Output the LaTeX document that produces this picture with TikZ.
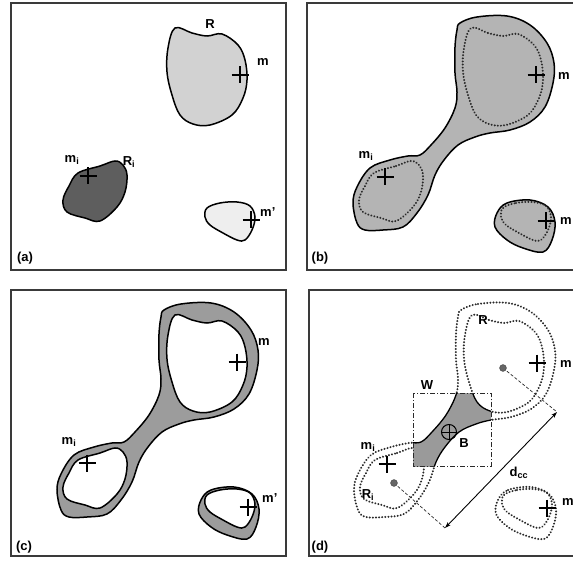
\documentclass[tikz,border=0pt]{standalone}
\usepackage{fontspec}
\setmainfont{Liberation Sans}
\usetikzlibrary{arrows.meta}
\definecolor{framec}{HTML}{3A3A3A}
\definecolor{lightR}{HTML}{D2D2D2}
\definecolor{darkRi}{HTML}{5E5E5E}
\definecolor{palem}{HTML}{EEEEEE}
\definecolor{grayb}{HTML}{B4B4B4}
\definecolor{grayc}{HTML}{9C9C9C}
\definecolor{grayd}{HTML}{9A9A9A}
\definecolor{dotc}{HTML}{2A2A2A}
\tikzset{
  panelframe/.style={draw=framec,line width=2pt},
  blobline/.style={draw=black,line width=1.5pt},
  dotline/.style={draw=dotc,line width=2.2pt,line cap=round,dash pattern=on 0.01pt off 3.1pt},
  crossln/.style={draw=black,line width=1.7pt},
  lbl/.style={font=\fontsize{13}{15}\selectfont\bfseries,inner sep=0pt},
  thindash/.style={draw=dotc,line width=0.7pt,dash pattern=on 3pt off 2pt},
  winline/.style={draw=dotc,line width=1pt,dash pattern=on 5pt off 2pt on 1pt off 2pt},
}
\newcommand\RBlob{plot[smooth cycle,tension=0.6] coordinates {(175,28) (192,33) (207,36) (222,34) (238,45) (245,60) (247,80) (243,98) (232,115) (210,125) (193,124) (180,115) (172,95) (167,72) (168,48)}}
\newcommand\RiBlob{plot[smooth cycle,tension=0.6] coordinates {(78,173) (100,166) (115,161) (123,165) (127,175) (125,192) (117,207) (100,221) (85,218) (67,212) (63,200) (69,186)}}
\newcommand\MpBlob{plot[smooth cycle,tension=0.6] coordinates {(207,208) (220,203) (237,202) (250,206) (255,217) (252,230) (245,240) (237,240) (223,233) (210,225) (205,217)}}
\newcommand\DumbBell{plot[smooth cycle,tension=0.6] coordinates {(164,23) (181,17) (211,16) (234,25) (251,43) (258,63) (257,83) (249,107) (234,122) (214,130) (194,133) (179,137) (162,145) (148,160) (139,175) (132,195) (121,213) (107,227) (87,230) (69,230) (61,223) (57,203) (61,187) (74,168) (94,160) (112,156) (124,155) (135,145) (149,128) (159,108) (161,92) (159,73) (159,47) (161,30)}}
\newcommand\SmallOuter{plot[smooth cycle,tension=0.6] coordinates {(201,213) (211,203) (234,200) (252,207) (259,222) (256,240) (247,252) (227,248) (211,240) (199,227)}}
\newcommand\pmk[1]{\draw[crossln] (#1) +(-8.5,0) -- +(8.5,0) (#1) +(0,-8.5) -- +(0,8.5);}
\begin{document}
\begin{tikzpicture}[x=1pt,y=-1pt]
\useasboundingbox (0,0) rectangle (573,561);
\fill[white] (0,0) rectangle (573,561);
% ---------- panel (a)
\draw[panelframe] (11,3) rectangle (286,270);
\begin{scope}
  \path[fill=lightR,blobline] \RBlob;
  \path[fill=darkRi,blobline] \RiBlob;
  \path[fill=palem,blobline] \MpBlob;
  \coordinate (a-m) at (240,75);
  \coordinate (a-mi) at (88,176);
  \coordinate (a-mp) at (251,220);
  \pmk{a-m}\pmk{a-mi}\pmk{a-mp}
  \node[lbl] (a-R) at (210,24) {R};
  \node[lbl,anchor=west] (a-mlab) at (257,62) {m};
  \node[lbl] (a-milab) at (72,160) {m\textsubscript{i}};
  \node[lbl] (a-Rilab) at (129,162) {R\textsubscript{i}};
  \node[lbl,anchor=west] (a-mplab) at (260,212) {m'};
  \node[lbl] (a-tag) at (25,258) {(a)};
\end{scope}
% ---------- panel (b)
\draw[panelframe] (307,3) rectangle (590,270);
\begin{scope}[shift={(296,0)}]
  \path[fill=grayb,blobline] \DumbBell;
  \path[fill=grayb,blobline] \SmallOuter;
  \draw[dotline] \RBlob;
  \draw[dotline] \RiBlob;
  \draw[dotline] \MpBlob;
  \coordinate (b-m) at (240,75);
  \coordinate (b-mi) at (89,177);
  \coordinate (b-mp) at (250,221);
  \pmk{b-m}\pmk{b-mi}\pmk{b-mp}
  \node[lbl,anchor=west] (b-mlab) at (262,76) {m};
  \node[lbl] (b-milab) at (70,156) {m\textsubscript{i}};
  \node[lbl,anchor=west] (b-mplab) at (264,221) {m};
  \node[lbl] (b-tag) at (24,258) {(b)};
\end{scope}
% ---------- panel (c)
\draw[panelframe] (11,290) rectangle (286,556);
\begin{scope}[shift={(0,287)}]
  \path[fill=grayc,blobline] \DumbBell;
  \path[fill=white,blobline] \RBlob;
  \path[fill=white,blobline] \RiBlob;
  \path[fill=grayc,blobline] \SmallOuter;
  \path[fill=white,blobline] \MpBlob;
  \coordinate (c-m) at (237,75);
  \coordinate (c-mi) at (87,176);
  \coordinate (c-mp) at (248,220);
  \pmk{c-m}\pmk{c-mi}\pmk{c-mp}
  \node[lbl,anchor=west] (c-mlab) at (258,55) {m};
  \node[lbl] (c-milab) at (69,155) {m\textsubscript{i}};
  \node[lbl,anchor=west] (c-mplab) at (262,211) {m'};
  \node[lbl] (c-tag) at (24,260) {(c)};
\end{scope}
% ---------- panel (d)
\draw[panelframe] (309,290) rectangle (590,556);
\begin{scope}[shift={(297,287)}]
  \draw[dotline] \DumbBell;
  \draw[dotline] \RBlob;
  \draw[dotline] \RiBlob;
  \draw[dotline] \SmallOuter;
  \draw[dotline] \MpBlob;
  \coordinate (W1) at (116,106);
  \coordinate (W2) at (194,179);
  \fill[white] (W1) rectangle (W2);
  \begin{scope}
    \clip (W1) rectangle (W2);
    \fill[grayd] \DumbBell;
    \fill[white] \RBlob;
    \draw[blobline,line width=1.3pt] \DumbBell;
    \draw[blobline,line width=1.3pt] \RBlob;
  \end{scope}
  \draw[winline] (W1) rectangle (W2);
  \node[lbl] (d-W) at (130,98) {W};
  % centroids and distance
  \coordinate (cR) at (206,81);
  \coordinate (cRi) at (97,196);
  \coordinate (eR) at (260,125);
  \coordinate (eRi) at (148,241);
  \draw[thindash] (cR) -- (eR);
  \draw[thindash] (cRi) -- (eRi);
  \draw[line width=0.9pt,{Stealth[length=6pt,width=4pt]}-{Stealth[length=6pt,width=4pt]}] (eRi) -- (eR);
  \fill[gray!80!black,draw=gray!50!black,line width=0.5pt] (cR) circle (3.4);
  \fill[gray!80!black,draw=gray!50!black,line width=0.5pt] (cRi) circle (3.4);
  \node[lbl] (d-dcc) at (222,186) {d\textsubscript{cc}};
  % B marker
  \coordinate (Bc) at (152,145);
  \draw[black,line width=1pt] (Bc) circle (7.5);
  \draw[black,line width=1pt] (Bc) +(-7.5,0) -- +(7.5,0) (Bc) +(0,-7.5) -- +(0,7.5);
  \node[lbl] (d-B) at (167,156) {B};
  \coordinate (d-m) at (240,76);
  \coordinate (d-mi) at (90,177);
  \coordinate (d-mp) at (250,221);
  \pmk{d-m}\pmk{d-mi}\pmk{d-mp}
  \node[lbl] (d-R) at (186,33) {R};
  \node[lbl,anchor=west] (d-mlab) at (263,77) {m};
  \node[lbl] (d-milab) at (71,160) {m\textsubscript{i}};
  \node[lbl] (d-Rilab) at (71,208) {R\textsubscript{i}};
  \node[lbl,anchor=west] (d-mplab) at (265,215) {m};
  \node[lbl] (d-tag) at (23,260) {(d)};
\end{scope}
\end{tikzpicture}
\end{document}
